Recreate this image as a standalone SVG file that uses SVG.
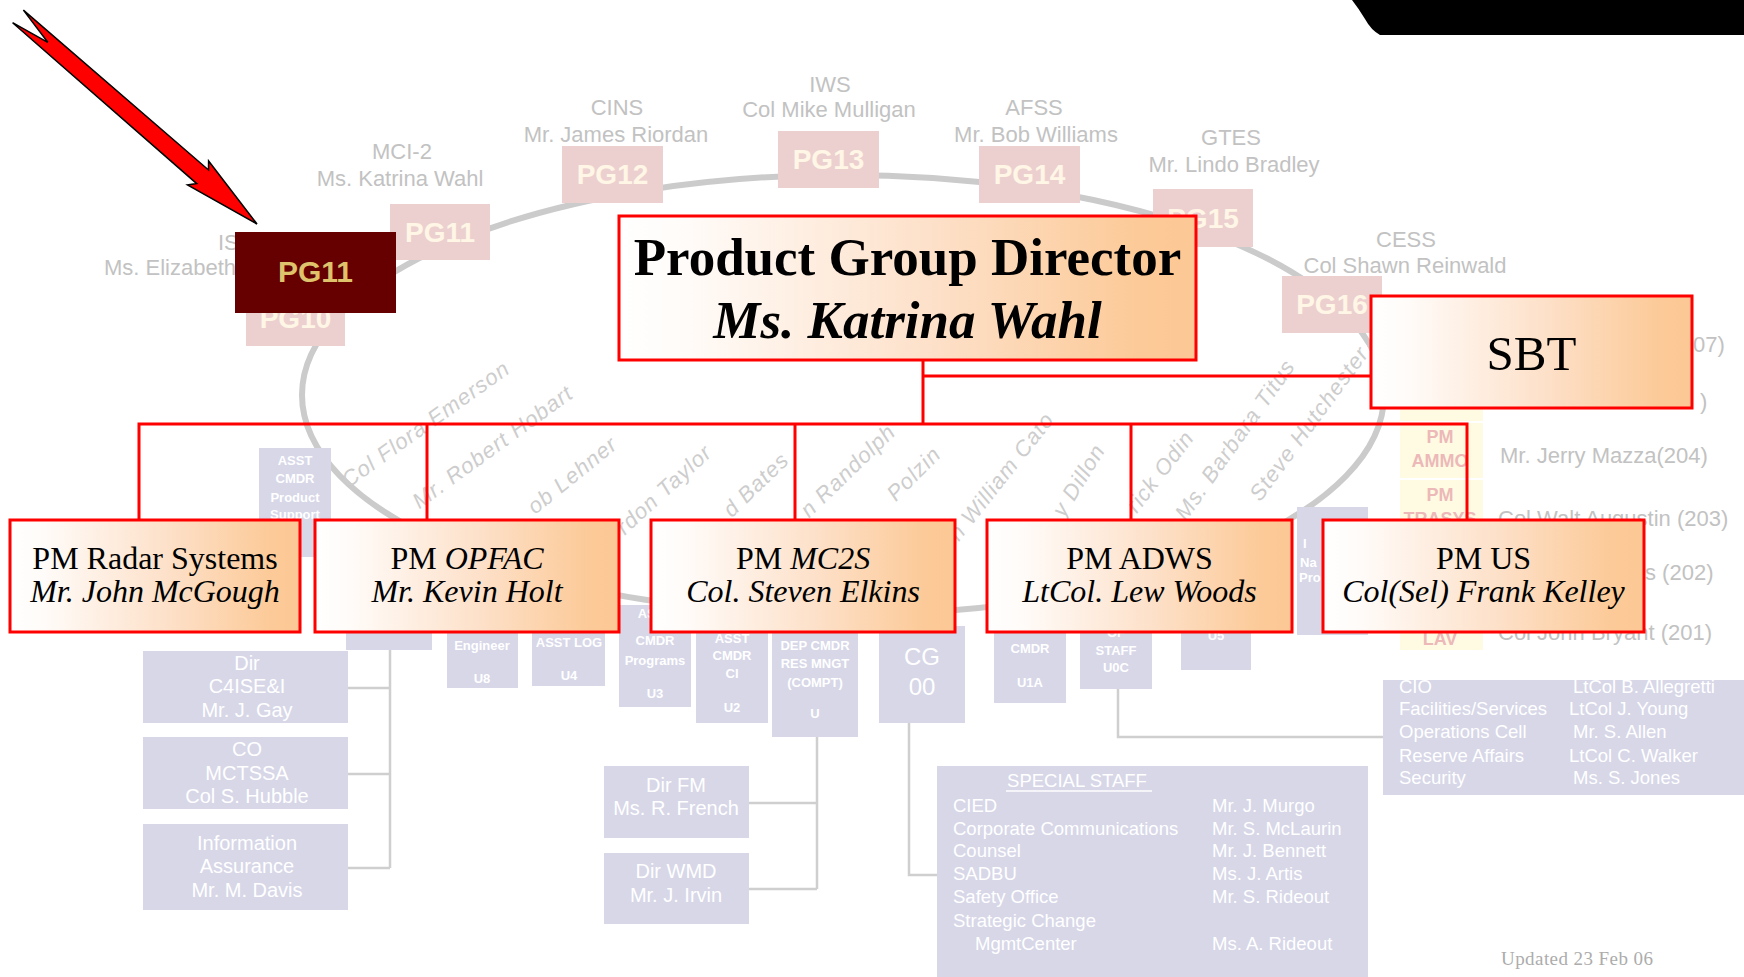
<svg xmlns="http://www.w3.org/2000/svg" width="1744" height="977" viewBox="0 0 1744 977">
<defs>
<linearGradient id="peach" x1="0" y1="0" x2="1" y2="0">
<stop offset="0" stop-color="#ffffff"/>
<stop offset="0.12" stop-color="#fffbf8"/>
<stop offset="0.55" stop-color="#fde0c8"/>
<stop offset="0.9" stop-color="#fcca98"/>
<stop offset="1" stop-color="#fcc895"/>
</linearGradient>
<style>
.lbl{font-family:"Liberation Sans",Arial,sans-serif;font-size:22px;fill:#c2c2c2;text-anchor:middle}
.pg{fill:#ecd0d0}
.pgt{font-family:"Liberation Sans",Arial,sans-serif;font-size:28px;font-weight:bold;fill:#fff6e6;text-anchor:middle}
.rot{font-family:"Liberation Sans",Arial,sans-serif;font-size:22px;font-style:italic;fill:#cdcdcd;text-anchor:middle;letter-spacing:1px}
.lav{fill:#d7d7e8}
.lt{font-family:"Liberation Sans",Arial,sans-serif;fill:#ffffff;text-anchor:middle}
.s13{font-size:13px;font-weight:bold}
.s20{font-size:20px}
.st{font-family:"Liberation Sans",Arial,sans-serif;font-size:18.5px;fill:#ffffff}
.gl{stroke:#cfcfcf;stroke-width:2.5;fill:none}
.rl{stroke:#ff0000;stroke-width:3;fill:none}
.box{fill:url(#peach);stroke:#ff0000;stroke-width:3}
.pm{font-family:"Liberation Serif","Times New Roman",serif;font-size:32px;fill:#000000;text-anchor:middle}
.yt{font-family:"Liberation Sans",Arial,sans-serif;font-size:18px;font-weight:bold;fill:#ecb8b8;text-anchor:middle}
.rt{font-family:"Liberation Sans",Arial,sans-serif;font-size:22px;fill:#c2c2c2}
</style>
</defs>
<rect x="0" y="0" width="1744" height="977" fill="#ffffff"/>

<!-- faded background chart -->
<g id="background">
<path d="M1352,0 L1744,0 L1744,35 L1380,35 Q1371,30 1365,19 Q1359,9 1352,0 Z" fill="#000000"/>
<ellipse cx="843" cy="395" rx="541" ry="220" fill="none" stroke="#cbcbcb" stroke-width="6"/>

<rect class="pg" x="246" y="289" width="99" height="57"/>
<text class="pgt" x="295.5" y="328">PG10</text>
<rect class="pg" x="390" y="204" width="100" height="56"/>
<text class="pgt" x="440" y="242">PG11</text>
<rect class="pg" x="562" y="146" width="101" height="57"/>
<text class="pgt" x="612.5" y="184">PG12</text>
<rect class="pg" x="778" y="131" width="101" height="57"/>
<text class="pgt" x="828.5" y="169">PG13</text>
<rect class="pg" x="979" y="146" width="101" height="57"/>
<text class="pgt" x="1029.5" y="184">PG14</text>
<rect class="pg" x="1153" y="189" width="100" height="58"/>
<text class="pgt" x="1203" y="228">PG15</text>
<rect class="pg" x="1282" y="276" width="100" height="57"/>
<text class="pgt" x="1332" y="314">PG16</text>

<text class="rt" x="218" y="250">IS</text>
<text class="rt" x="104" y="275">Ms. Elizabeth</text>
<text class="lbl" x="402" y="159">MCI-2</text>
<text class="lbl" x="400" y="186">Ms. Katrina Wahl</text>
<text class="lbl" x="617" y="115">CINS</text>
<text class="lbl" x="616" y="142">Mr. James Riordan</text>
<text class="lbl" x="830" y="92">IWS</text>
<text class="lbl" x="829" y="117">Col Mike Mulligan</text>
<text class="lbl" x="1034" y="115">AFSS</text>
<text class="lbl" x="1036" y="142">Mr. Bob Williams</text>
<text class="lbl" x="1231" y="145">GTES</text>
<text class="lbl" x="1234" y="172">Mr. Lindo Bradley</text>
<text class="lbl" x="1406" y="247">CESS</text>
<text class="lbl" x="1405" y="273">Col Shawn Reinwald</text>

<text class="rot" x="430" y="430" transform="rotate(-35.5 430 430)">Col Flora Emerson</text>
<text class="rot" x="497" y="453" transform="rotate(-36 497 453)">Mr. Robert Hobart</text>
<text class="rot" x="577" y="481" transform="rotate(-39 577 481)">ob Lehner</text>
<text class="rot" x="669" y="495" transform="rotate(-42.6 669 495)">rdon Taylor</text>
<text class="rot" x="761" y="490" transform="rotate(-44 761 490)">d Bates</text>
<text class="rot" x="853" y="476" transform="rotate(-44 853 476)">n Randolph</text>
<text class="rot" x="919" y="479" transform="rotate(-45 919 479)">Polzin</text>
<text class="rot" x="1007" y="481" transform="rotate(-51.7 1007 481)">n William Cato</text>
<text class="rot" x="1085" y="484" transform="rotate(-58.5 1085 484)">y Dillon</text>
<text class="rot" x="1166" y="476" transform="rotate(-52.5 1166 476)">rick Odin</text>
<text class="rot" x="1241" y="444" transform="rotate(-54.7 1241 444)">Ms. Barbara Titus</text>
<text class="rot" x="1315" y="428" transform="rotate(-53.7 1315 428)">Steve Hutchester</text>

<!-- yellow column -->
<rect x="1400" y="300" width="83" height="350" fill="#fffbe3"/>
<path d="M1400,366 H1483 M1400,422 H1483 M1400,479 H1483 M1400,537 H1483 M1400,594 H1483" stroke="#ffffff" stroke-width="2"/>
<text class="yt" x="1440" y="443">PM</text>
<text class="yt" x="1440" y="467">AMMO</text>
<text class="yt" x="1440" y="501">PM</text>
<text class="yt" x="1440" y="525">TRASYS</text>
<text class="yt" x="1440" y="645">LAV</text>
<text class="rt" x="1693" y="352">07)</text>
<text class="rt" x="1700" y="409">)</text>
<text class="rt" x="1500" y="463">Mr. Jerry Mazza(204)</text>
<text class="rt" x="1498" y="526">Col Walt Augustin (203)</text>
<text class="rt" x="1645" y="580">s (202)</text>
<text class="rt" x="1498" y="640">Col John Bryant (201)</text>

<!-- lavender boxes -->
<rect class="lav" x="259" y="448" width="72" height="109"/>
<text class="lt s13" x="295" y="465">ASST</text>
<text class="lt s13" x="295" y="483">CMDR</text>
<text class="lt s13" x="295" y="502">Product</text>
<text class="lt s13" x="295" y="519">Support</text>

<rect class="lav" x="1297" y="507" width="71" height="128"/>
<text class="lt s13" x="1303" y="548" style="text-anchor:start">I</text>
<text class="lt s13" x="1300" y="567" style="text-anchor:start">Na</text>
<text class="lt s13" x="1299" y="582" style="text-anchor:start">Pro</text>

<rect class="lav" x="346" y="600" width="86" height="50"/>
<rect class="lav" x="447" y="600" width="71" height="88"/>
<text class="lt s13" x="482" y="650">Engineer</text>
<text class="lt s13" x="482" y="683">U8</text>
<rect class="lav" x="532" y="600" width="73" height="86"/>
<text class="lt s13" x="569" y="647">ASST LOG</text>
<text class="lt s13" x="569" y="680">U4</text>
<rect class="lav" x="619" y="605" width="72" height="102"/>
<text class="lt s13" x="655" y="618">ASST</text>
<text class="lt s13" x="655" y="645">CMDR</text>
<text class="lt s13" x="655" y="665">Programs</text>
<text class="lt s13" x="655" y="698">U3</text>
<rect class="lav" x="696" y="600" width="72" height="123"/>
<text class="lt s13" x="732" y="643">ASST</text>
<text class="lt s13" x="732" y="660">CMDR</text>
<text class="lt s13" x="732" y="678">CI</text>
<text class="lt s13" x="732" y="712">U2</text>
<rect class="lav" x="772" y="600" width="86" height="137"/>
<text class="lt s13" x="815" y="650">DEP CMDR</text>
<text class="lt s13" x="815" y="668">RES MNGT</text>
<text class="lt s13" x="815" y="687">(COMPT)</text>
<text class="lt s13" x="815" y="718">U</text>
<rect class="lav" x="879" y="626" width="86" height="97"/>
<text class="lt" x="922" y="665" font-size="24">CG</text>
<text class="lt" x="922" y="695" font-size="24">00</text>
<rect class="lav" x="994" y="600" width="72" height="103"/>
<text class="lt s13" x="1030" y="653">CMDR</text>
<text class="lt s13" x="1030" y="687">U1A</text>
<rect class="lav" x="1080" y="600" width="72" height="89"/>
<text class="lt s13" x="1116" y="637">OF</text>
<text class="lt s13" x="1116" y="655">STAFF</text>
<text class="lt s13" x="1116" y="672">U0C</text>
<rect class="lav" x="1181" y="600" width="70" height="70"/>
<text class="lt s13" x="1216" y="640">U5</text>

<rect class="lav" x="143" y="651" width="205" height="72"/>
<text class="lt s20" x="247" y="670">Dir</text>
<text class="lt s20" x="247" y="693">C4ISE&amp;I</text>
<text class="lt s20" x="247" y="717">Mr. J. Gay</text>
<rect class="lav" x="143" y="737" width="205" height="72"/>
<text class="lt s20" x="247" y="756">CO</text>
<text class="lt s20" x="247" y="780">MCTSSA</text>
<text class="lt s20" x="247" y="803">Col S. Hubble</text>
<rect class="lav" x="143" y="824" width="205" height="86"/>
<text class="lt s20" x="247" y="850">Information</text>
<text class="lt s20" x="247" y="873">Assurance</text>
<text class="lt s20" x="247" y="897">Mr. M. Davis</text>

<rect class="lav" x="604" y="766" width="145" height="72"/>
<text class="lt s20" x="676" y="792">Dir FM</text>
<text class="lt s20" x="676" y="815">Ms. R. French</text>
<rect class="lav" x="604" y="853" width="145" height="71"/>
<text class="lt s20" x="676" y="878">Dir WMD</text>
<text class="lt s20" x="676" y="902">Mr. J. Irvin</text>

<path class="gl" d="M390,650 V868 M348,688 H390 M348,774 H390 M348,868 H390"/>
<path class="gl" d="M817,737 V889 M749,803 H817 M749,889 H817"/>
<path class="gl" d="M909,723 V875 H937"/>
<path class="gl" d="M1118,689 V737 H1383"/>

<rect class="lav" x="937" y="766" width="431" height="220"/>
<text class="st" x="1077" y="787" text-anchor="middle">SPECIAL STAFF</text>
<line x1="1006" y1="791" x2="1152" y2="791" stroke="#ffffff" stroke-width="1.5"/>
<text class="st" x="953" y="812">CIED</text>
<text class="st" x="953" y="835">Corporate Communications</text>
<text class="st" x="953" y="857">Counsel</text>
<text class="st" x="953" y="880">SADBU</text>
<text class="st" x="953" y="903">Safety Office</text>
<text class="st" x="953" y="927">Strategic Change</text>
<text class="st" x="975" y="950">MgmtCenter</text>
<text class="st" x="1212" y="812">Mr. J. Murgo</text>
<text class="st" x="1212" y="835">Mr. S. McLaurin</text>
<text class="st" x="1212" y="857">Mr. J. Bennett</text>
<text class="st" x="1212" y="880">Ms. J. Artis</text>
<text class="st" x="1212" y="903">Mr. S. Rideout</text>
<text class="st" x="1212" y="950">Ms. A. Rideout</text>

<rect class="lav" x="1383" y="680" width="361" height="115"/>
<text class="st" x="1399" y="693">CIO</text>
<text class="st" x="1399" y="715">Facilities/Services</text>
<text class="st" x="1399" y="738">Operations Cell</text>
<text class="st" x="1399" y="762">Reserve Affairs</text>
<text class="st" x="1399" y="784">Security</text>
<text class="st" x="1573" y="693">LtCol B. Allegretti</text>
<text class="st" x="1569" y="715">LtCol J. Young</text>
<text class="st" x="1573" y="738">Mr. S. Allen</text>
<text class="st" x="1569" y="762">LtCol C. Walker</text>
<text class="st" x="1573" y="784">Ms. S. Jones</text>

<text x="1501" y="965" font-family="'Liberation Serif','Times New Roman',serif" font-size="19" fill="#acacac" textLength="152">Updated 23 Feb 06</text>
</g>

<!-- connectors -->
<g id="connectors">
<path class="rl" d="M923,360 V424"/>
<path class="rl" d="M923,376 H1371"/>
<path class="rl" d="M139,520 V424 H1467 V520"/>
<path class="rl" d="M427,424 V520 M795,424 V520 M1131,424 V520"/>
</g>

<g id="pgd">
<rect class="box" x="619" y="216" width="577" height="144"/>
<text x="907.5" y="275" font-family="'Liberation Serif','Times New Roman',serif" font-size="53" font-weight="bold" text-anchor="middle" fill="#000">Product Group Director</text>
<text x="907.5" y="338" font-family="'Liberation Serif','Times New Roman',serif" font-size="53" font-weight="bold" font-style="italic" text-anchor="middle" fill="#000">Ms. Katrina Wahl</text>
</g>

<g id="sbt">
<rect class="box" x="1371" y="296" width="321" height="112"/>
<text x="1531.5" y="370" font-family="'Liberation Serif','Times New Roman',serif" font-size="49" text-anchor="middle" fill="#000">SBT</text>
</g>

<g id="pm-radar">
<rect class="box" x="10" y="520" width="290" height="112"/>
<text class="pm" x="155" y="569">PM Radar Systems</text>
<text class="pm" x="155" y="602" font-style="italic">Mr. John McGough</text>
</g>
<g id="pm-opfac">
<rect class="box" x="315" y="520" width="304" height="112"/>
<text class="pm" x="467" y="569">PM <tspan font-style="italic">OPFAC</tspan></text>
<text class="pm" x="467" y="602" font-style="italic">Mr. Kevin Holt</text>
</g>
<g id="pm-mc2s">
<rect class="box" x="651" y="520" width="304" height="112"/>
<text class="pm" x="803" y="569">PM <tspan font-style="italic">MC2S</tspan></text>
<text class="pm" x="803" y="602" font-style="italic">Col. Steven Elkins</text>
</g>
<g id="pm-adws">
<rect class="box" x="987" y="520" width="305" height="112"/>
<text class="pm" x="1139.5" y="569">PM ADWS</text>
<text class="pm" x="1139.5" y="602" font-style="italic">LtCol. Lew Woods</text>
</g>
<g id="pm-us">
<rect class="box" x="1323" y="520" width="321" height="112"/>
<text class="pm" x="1483.5" y="569">PM US</text>
<text class="pm" x="1483.5" y="602" font-style="italic">Col(Sel) Frank Kelley</text>
</g>

<g id="pg11-highlight">
<rect x="235" y="232" width="161" height="81" fill="#660000"/>
<text x="315.5" y="282" font-family="'Liberation Sans',Arial,sans-serif" font-size="30" font-weight="bold" text-anchor="middle" fill="#dfc26c">PG11</text>
</g>

<g id="pointer-arrow">
<polygon points="257,224 208.6,161 208.5,170 23.4,10.1 47.8,42.3 12.6,22.7 196.7,183.6 187.5,185" fill="#ff0000" stroke="#000000" stroke-width="1.5" stroke-linejoin="miter"/>
</g>
</svg>
